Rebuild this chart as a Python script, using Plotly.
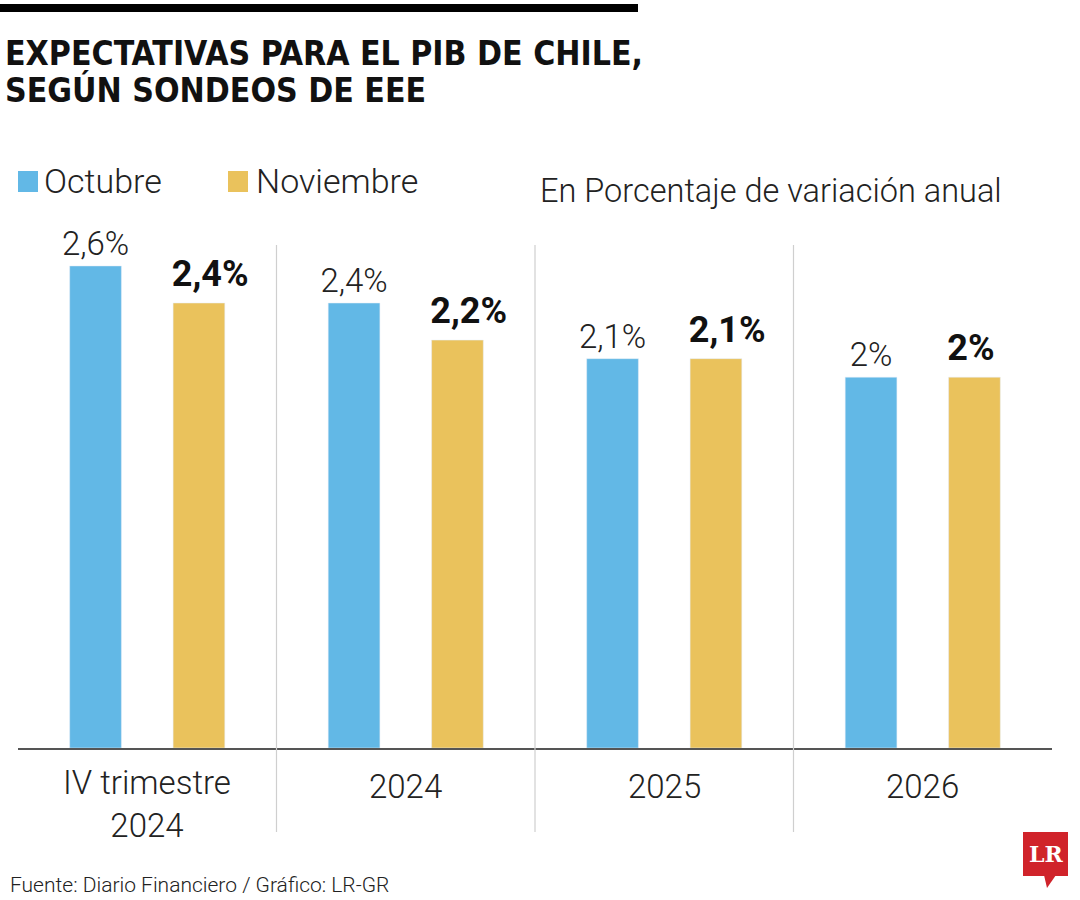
import plotly.graph_objects as go

categories = ["IV trimestre<br>2024", "2024", "2025", "2026"]
octubre = [2.6, 2.4, 2.1, 2.0]
noviembre = [2.4, 2.2, 2.1, 2.0]
series_names = ["Octubre", "Noviembre"]
colors = ["#62B8E6", "#EAC25C"]
title_lines = ["EXPECTATIVAS PARA EL PIB DE CHILE,", "SEGÚN SONDEOS DE EEE"]
subtitle = "En Porcentaje de variación anual"
source = "Fuente: Diario Financiero / Gráfico: LR-GR"

def fmt(v):
    s = f"{v:.1f}".rstrip("0").rstrip(".")
    return s.replace(".", ",") + "%"

W, H = 1080, 900
L, R, T, B = 18, 28, 245, 152
Y_MAX = 2.713
FONT = "Roboto"
COND = "DejaVu Sans Condensed, Roboto Condensed, Roboto"
BAR_W = 0.2        # bar width in category units
BAR_OFF = 0.2      # centre offset of each bar from category centre
LABEL_LIFT = 8 * Y_MAX / (H - T - B)   # 8 px extra lift for bold labels

x = list(range(len(categories)))
fig = go.Figure()
fig.add_trace(go.Bar(
    x=x, y=octubre, name=series_names[0], marker_color=colors[0],
    width=BAR_W, offset=-BAR_OFF - BAR_W / 2,
    text=[fmt(v) for v in octubre], textposition="outside", cliponaxis=False,
    constraintext="none",
    textfont=dict(family=FONT, size=33, color="#222", weight=300),
))
fig.add_trace(go.Bar(
    x=x, y=noviembre, name=series_names[1], marker_color=colors[1],
    width=BAR_W, offset=BAR_OFF - BAR_W / 2,
))
# bold labels for Noviembre, left-aligned to the bar's left edge
fig.add_trace(go.Scatter(
    x=[xi + BAR_OFF - BAR_W / 2 - 0.005 for xi in x], y=[v + LABEL_LIFT for v in noviembre],
    mode="text", text=[fmt(v) for v in noviembre], textposition="top right", cliponaxis=False,
    textfont=dict(family=FONT, size=36, color="#111", weight=700), hoverinfo="skip",
))

def px_x(px):
    return (px - L) / (W - L - R)

def px_y(py):
    return (H - B - py) / (H - T - B)

shapes = []
for i in range(len(categories) - 1):
    shapes.append(dict(type="line", xref="x", yref="paper", x0=i + 0.5, x1=i + 0.5,
                       y0=px_y(832), y1=1.0, line=dict(color="#CFCFCF", width=1.2)))
shapes.append(dict(type="rect", xref="paper", yref="paper", x0=px_x(0), x1=px_x(638),
                   y0=px_y(12), y1=px_y(4), fillcolor="#000", line=dict(width=0)))
for cx, c in zip([18, 228], colors):
    shapes.append(dict(type="rect", xref="paper", yref="paper", x0=px_x(cx), x1=px_x(cx + 20),
                       y0=px_y(192), y1=px_y(171), fillcolor=c, line=dict(width=0)))
shapes.append(dict(type="rect", xref="paper", yref="paper", x0=px_x(1023), x1=px_x(1068),
                   y0=px_y(876), y1=px_y(832), fillcolor="#D0232A", line=dict(width=0)))
shapes.append(dict(type="path", xref="paper", yref="paper",
                   path=f"M {px_x(1044)} {px_y(875)} L {px_x(1056)} {px_y(875)} L {px_x(1047)} {px_y(888)} Z",
                   fillcolor="#D0232A", line=dict(width=0)))

annotations = []
for line, yb in zip(title_lines, [53, 90]):
    annotations.append(dict(text=f"<b>{line}</b>", xref="paper", yref="paper", x=px_x(3), y=px_y(yb),
                            xanchor="left", yanchor="middle", showarrow=False,
                            font=dict(family=COND, size=33.5, color="#111")))
for name, lx in zip(series_names, [42, 254]):
    annotations.append(dict(text=name, xref="paper", yref="paper", x=px_x(lx), y=px_y(181),
                            xanchor="left", yanchor="middle", showarrow=False,
                            font=dict(family=FONT, size=34, color="#222", weight=300)))
annotations.append(dict(text=subtitle, xref="paper", yref="paper",
                        x=px_x(1004), y=px_y(191), xanchor="right", yanchor="middle", showarrow=False,
                        font=dict(family=FONT, size=32.5, color="#222", weight=300)))
annotations.append(dict(text=source, xref="paper", yref="paper",
                        x=px_x(8), y=px_y(885), xanchor="left", yanchor="middle", showarrow=False,
                        font=dict(family=FONT, size=21, color="#222", weight=300)))
annotations.append(dict(text="<b>LR</b>", xref="paper", yref="paper", x=px_x(1045.5), y=px_y(854),
                        xanchor="center", yanchor="middle", showarrow=False,
                        font=dict(family="DejaVu Serif", size=22, color="#fff")))
for xi, cat in zip(x, categories):
    n_lines = cat.count("<br>") + 1
    annotations.append(dict(text=cat, xref="x", yref="paper", x=xi, y=px_y(786 + 18 * (n_lines - 1)),
                            xanchor="center", yanchor="middle", showarrow=False,
                            font=dict(family=FONT, size=33, color="#222", weight=300)))

fig.update_layout(
    width=W, height=H, margin=dict(l=L, r=R, t=T, b=B),
    paper_bgcolor="#fff", plot_bgcolor="#fff",
    barmode="overlay",
    showlegend=False, shapes=shapes, annotations=annotations,
    xaxis=dict(range=[-0.5, len(categories) - 0.5], tickvals=x, showticklabels=False,
               showgrid=False, zeroline=False, showline=True, linecolor="#555", linewidth=1.5,
               ticks=""),
    yaxis=dict(range=[0, Y_MAX], visible=False),
)

fig.write_html("out.html", config={"displayModeBar": False},
               post_script="document.body.style.margin='0';")
